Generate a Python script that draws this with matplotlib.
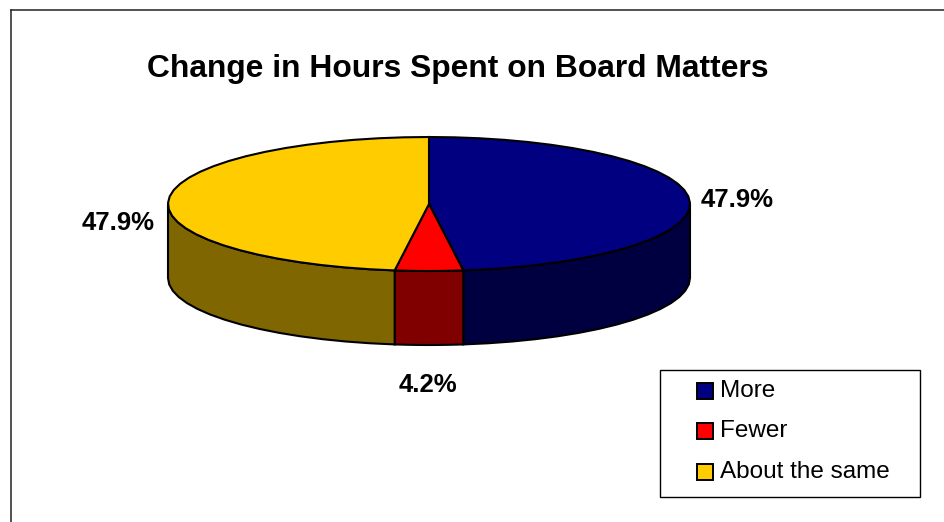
import matplotlib
matplotlib.use('Agg')
import matplotlib.pyplot as plt
import numpy as np
from matplotlib.patches import Polygon, Rectangle

labels = ['More', 'Fewer', 'About the same']
values = [47.9, 4.2, 47.9]
value_text = ['47.9%', '4.2%', '47.9%']
colors = ['#000080', '#FF0000', '#FFCC00']
side_colors = ['#000040', '#800000', '#806600']

plt.rcParams['font.family'] = ['Liberation Sans', 'DejaVu Sans']

W, H = 945, 522
fig = plt.figure(figsize=(W / 100, H / 100), dpi=100)
ax = fig.add_axes([0, 0, 1, 1])
ax.set_xlim(0, W)
ax.set_ylim(H, 0)
ax.axis('off')

# outer frame, runs off the right and bottom of the picture
ax.plot([11, 11], [H, 9.5], color='#222222', lw=1.1)
ax.plot([11, W], [9.5, 9.5], color='#222222', lw=1.1)

cx, cy = 429, 204
a, b = 261, 67
depth = 74


def pt(t):
    return cx + a * np.sin(t), cy - b * np.cos(t)


# slice angles clockwise from 12 o'clock
shares = np.array(values) / sum(values) * 2 * np.pi
ends = np.cumsum(shares)
starts = ends - shares

# side walls first
for s, e, c in zip(starts, ends, side_colors):
    lo, hi = max(s, np.pi / 2), min(e, 3 * np.pi / 2)
    if lo >= hi:
        continue
    t = np.linspace(lo, hi, 16)
    x, y = pt(t)
    xy = np.r_[np.c_[x, y], np.c_[x, y + depth][::-1]]
    ax.add_patch(Polygon(xy, closed=True, fc=c, ec='black', lw=1.5))

# top of the pie
for s, e, c in zip(starts, ends, colors):
    t = np.linspace(s, e, 32)
    x, y = pt(t)
    xy = np.r_[[[cx, cy]], np.c_[x, y]]
    ax.add_patch(Polygon(xy, closed=True, fc=c, ec='black', lw=1.5))

ax.text(457.5, 69, 'Change in Hours Spent on Board Matters', fontsize=22.9,
        fontweight='bold', ha='center', va='center')

label_pos = [(737, 200), (428, 385), (118, 223)]
for txt, (x, y) in zip(value_text, label_pos):
    ax.text(x, y, txt, fontsize=18.5, fontweight='bold', ha='center', va='center')

# legend box
ax.add_patch(Rectangle((659.5, 370), 260, 127, fc='white', ec='black', lw=1))
swatch_y = [390.5, 431, 472]
text_y = [391, 431, 472]
for lab, c, sy, ty in zip(labels, colors, swatch_y, text_y):
    ax.add_patch(Rectangle((697, sy - 8), 16, 16, fc=c, ec='black', lw=1.4))
    ax.text(719.5, ty, lab, fontsize=17.5, ha='left', va='center')

fig.savefig('out.png', dpi=100)
